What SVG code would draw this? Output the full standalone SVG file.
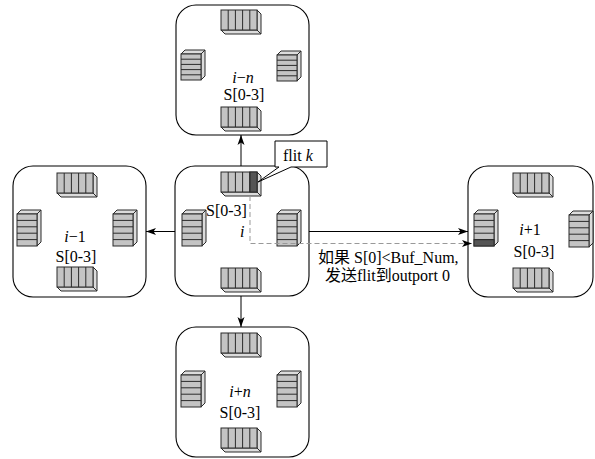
<svg xmlns="http://www.w3.org/2000/svg" xmlns:xlink="http://www.w3.org/1999/xlink" width="595" height="459" viewBox="0 0 595 459">
<style>
.node{fill:#fff;stroke:#000;stroke-width:1.1}
.fr{fill:#c4c4c4;stroke:#2a2a2a;stroke-width:1}
.fc{fill:#dcdcdc;stroke:#2a2a2a;stroke-width:1}
.dk{fill:#555;stroke:#2a2a2a;stroke-width:1}
.ln{stroke:#2a2a2a;stroke-width:1;fill:none}
.t{font-family:"Liberation Serif","Noto Sans CJK SC",serif;font-size:16px;fill:#000}
.it{font-style:italic}
.cn{font-family:"Liberation Serif","Noto Sans CJK SC",serif;font-size:16px;fill:#000}
.con{stroke:#000;stroke-width:1;fill:none}
.dash{stroke:#999;stroke-width:1;fill:none;stroke-dasharray:5 3}
</style>
<defs>
<marker id="ah" markerUnits="userSpaceOnUse" markerWidth="11" markerHeight="8" viewBox="-10 -4 10 8" refX="0" refY="0" orient="auto">
<path d="M0,0 L-10,-3.5 L-7.5,0 L-10,3.5 Z" fill="#000"/>
</marker>
<g id="hbuf">
<polygon class="fc" points="36,0 40,4 40,24 36,20"/>
<polygon class="fc" points="0,20 36,20 40,24 4,24"/>
<rect class="fr" x="0" y="0" width="36" height="20"/>
<path class="ln" d="M7.2,0V20M14.4,0V20M21.6,0V20M28.8,0V20"/>
</g>
<g id="hbufd">
<polygon class="fc" points="36,0 40,4 40,24 36,20"/>
<polygon class="fc" points="0,20 36,20 40,24 4,24"/>
<rect class="fr" x="0" y="0" width="36" height="20"/>
<rect class="dk" x="28.8" y="0" width="7.2" height="20"/>
<path class="ln" d="M7.2,0V20M14.4,0V20M21.6,0V20M28.8,0V20"/>
</g>
<g id="vbuf">
<polygon class="fc" points="0,0 4,-4 24,-4 20,0"/>
<polygon class="fc" points="20,0 24,-4 24,28 20,32"/>
<rect class="fr" x="0" y="0" width="20" height="32"/>
<path class="ln" d="M0,6.4H20M0,12.8H20M0,19.2H20M0,25.6H20"/>
</g>
<g id="vbufd">
<polygon class="fc" points="0,0 4,-4 24,-4 20,0"/>
<polygon class="fc" points="20,0 24,-4 24,28 20,32"/>
<rect class="fr" x="0" y="0" width="20" height="32"/>
<rect class="dk" x="0" y="25.6" width="20" height="6.4"/>
<path class="ln" d="M0,6.4H20M0,12.8H20M0,19.2H20M0,25.6H20"/>
</g>
<g id="vbufs">
<polygon class="fc" points="0,0 4,-4 24,-4 20,0"/>
<polygon class="fc" points="20,0 24,-4 24,22 20,26"/>
<rect class="fr" x="0" y="0" width="20" height="26"/>
<path class="ln" d="M0,5.2H20M0,10.4H20M0,15.6H20M0,20.8H20"/>
</g>
</defs>

<g id="node-top">
<rect class="node" x="176" y="5" width="133" height="130" rx="20"/>
<use xlink:href="#hbuf" x="221" y="10"/>
<use xlink:href="#hbuf" x="221" y="107"/>
<use xlink:href="#vbufs" x="181" y="54"/>
<use xlink:href="#vbufs" x="277" y="55"/>
<text class="t" x="243" y="83" text-anchor="middle"><tspan class="it">i</tspan>−<tspan class="it">n</tspan></text>
<text class="t" x="244" y="100" text-anchor="middle">S[0-3]</text>
</g>

<g id="node-center">
<rect class="node" x="175" y="166" width="134" height="130" rx="20"/>
<use xlink:href="#hbufd" x="221" y="172"/>
<use xlink:href="#hbuf" x="221" y="268"/>
<use xlink:href="#vbuf" x="182" y="214"/>
<use xlink:href="#vbuf" x="277" y="214"/>
<text class="t" x="206" y="216">S[0-3]</text>
<text class="t it" x="240" y="237">i</text>
</g>

<g id="node-left">
<rect class="node" x="13" y="166" width="133" height="131" rx="20"/>
<use xlink:href="#hbuf" x="57" y="173"/>
<use xlink:href="#hbuf" x="57" y="267"/>
<use xlink:href="#vbuf" x="17" y="214"/>
<use xlink:href="#vbuf" x="113" y="214"/>
<text class="t" x="75" y="242" text-anchor="middle"><tspan class="it">i</tspan>−1</text>
<text class="t" x="76" y="262" text-anchor="middle">S[0-3]</text>
</g>

<g id="node-right">
<rect class="node" x="468" y="166" width="125" height="131" rx="20"/>
<use xlink:href="#hbuf" x="513" y="173"/>
<use xlink:href="#hbuf" x="513" y="268"/>
<use xlink:href="#vbufd" x="474" y="214"/>
<use xlink:href="#vbuf" x="569" y="215"/>
<text class="t" x="530" y="235" text-anchor="middle"><tspan class="it">i</tspan>+1</text>
<text class="t" x="534" y="257" text-anchor="middle">S[0-3]</text>
</g>

<g id="node-bottom">
<rect class="node" x="176" y="327" width="133" height="130" rx="20"/>
<use xlink:href="#hbuf" x="221" y="333"/>
<use xlink:href="#hbuf" x="221" y="428"/>
<use xlink:href="#vbuf" x="181" y="375"/>
<use xlink:href="#vbuf" x="277" y="375"/>
<text class="t" x="240" y="397" text-anchor="middle"><tspan class="it">i</tspan>+<tspan class="it">n</tspan></text>
<text class="t" x="240" y="418" text-anchor="middle">S[0-3]</text>
</g>

<g id="connectors">
<line class="con" x1="241" y1="166" x2="241" y2="135" marker-end="url(#ah)"/>
<line class="con" x1="175" y1="231.5" x2="146" y2="231.5" marker-end="url(#ah)"/>
<line class="con" x1="241" y1="296" x2="241" y2="327" marker-end="url(#ah)"/>
<line class="con" x1="309" y1="231.5" x2="468" y2="231.5" marker-end="url(#ah)"/>
<path class="dash" d="M250,196 V243.5 H472" marker-end="url(#ah)"/>
</g>

<g id="label-cond">
<text class="cn" x="318" y="263">如果 S[0]&lt;Buf_Num,</text>
<text class="cn" x="325" y="281">发送flit到outport 0</text>
</g>

<g id="callout">
<path d="M275,141 H327 V167 H291 L258,182 L279,167 H275 Z" fill="#fff" stroke="#000" stroke-width="1"/>
<text class="t" x="283" y="161">flit <tspan class="it">k</tspan></text>
</g>
</svg>
